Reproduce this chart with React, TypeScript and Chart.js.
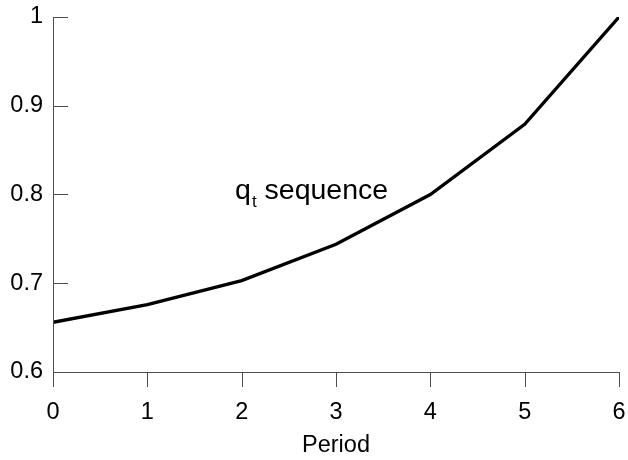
import React, { useEffect, useRef } from "react";
import { Chart, registerables } from "chart.js";

Chart.register(...registerables);

const periods: number[] = [0, 1, 2, 3, 4, 5, 6];
const qValues: number[] = [0.656, 0.676, 0.703, 0.744, 0.8, 0.879, 1.0];
const yTickValues: number[] = [0.6, 0.7, 0.8, 0.9, 1.0];
const xAxisTitle = "Period";
const seriesName = "q";
const seriesSub = "t";
const seriesRest = " sequence";

const FONT = "'Liberation Sans', Arial, Helvetica, sans-serif";
const AXIS_COLOR = "#4d4d4d";

const axesPlugin = {
  id: "customAxes",
  afterDraw(chart: any) {
    const ctx = chart.ctx;
    const xs = chart.scales.x;
    const ys = chart.scales.y;
    const left = chart.chartArea.left;
    const right = chart.chartArea.right;
    const top = chart.chartArea.top;
    const bottom = chart.chartArea.bottom;
    const tl = 15;
    ctx.save();
    ctx.strokeStyle = AXIS_COLOR;
    ctx.lineWidth = 1;
    ctx.beginPath();
    ctx.moveTo(Math.round(left) + 0.5, top);
    ctx.lineTo(Math.round(left) + 0.5, bottom + tl);
    ctx.moveTo(left, Math.round(bottom) + 0.5);
    ctx.lineTo(right, Math.round(bottom) + 0.5);
    yTickValues.forEach((v) => {
      const py = Math.round(ys.getPixelForValue(v)) + 0.5;
      ctx.moveTo(left, py);
      ctx.lineTo(left + tl, py);
    });
    periods.forEach((v) => {
      const px = Math.round(xs.getPixelForValue(v)) + 0.5;
      ctx.moveTo(px, bottom);
      ctx.lineTo(px, bottom + tl);
    });
    ctx.stroke();

    ctx.fillStyle = "#000";
    ctx.font = `23.5px ${FONT}`;
    ctx.textAlign = "center";
    ctx.textBaseline = "alphabetic";
    ctx.fillText(xAxisTitle, (left + right) / 2, 452);

    const ax = xs.getPixelForValue(1.93);
    const ay = ys.getPixelForValue(0.795);
    ctx.textAlign = "left";
    ctx.font = `28.5px ${FONT}`;
    ctx.fillText(seriesName, ax, ay);
    const qw = ctx.measureText(seriesName).width;
    ctx.font = `17px ${FONT}`;
    ctx.fillText(seriesSub, ax + qw + 1, ay + 8);
    const tw = ctx.measureText(seriesSub).width;
    ctx.font = `28.5px ${FONT}`;
    ctx.fillText(seriesRest, ax + qw + 1 + tw, ay);
    ctx.restore();
  },
};

export default function App() {
  const canvasRef = useRef<HTMLCanvasElement | null>(null);

  useEffect(() => {
    if (!canvasRef.current) return;
    const chart = new Chart(canvasRef.current, {
      type: "line",
      data: {
        datasets: [
          {
            data: periods.map((p, i) => ({ x: p, y: qValues[i] })),
            borderColor: "#000",
            borderWidth: 3.3,
            pointRadius: 0,
            tension: 0,
            fill: false,
          },
        ],
      },
      options: {
        animation: false,
        responsive: false,
        devicePixelRatio: 1,
        layout: { padding: { top: 17, right: 9, left: 0, bottom: 0 } },
        plugins: { legend: { display: false }, tooltip: { enabled: false } },
        scales: {
          x: {
            type: "linear",
            min: 0,
            max: 6,
            grid: { display: false, drawTicks: false },
            border: { display: false },
            ticks: {
              stepSize: 1,
              padding: 26,
              color: "#000",
              font: { family: FONT, size: 23.5 },
              maxRotation: 0,
              callback: (v: any) => String(v),
            },
            afterFit: (s: any) => {
              s.height = 88;
              s.paddingLeft = 0;
              s.paddingRight = 0;
              s.paddingTop = 0;
              s.paddingBottom = 0;
            },
          },
          y: {
            type: "linear",
            min: 0.6,
            max: 1,
            grid: { display: false, drawTicks: false },
            border: { display: false },
            afterBuildTicks: (s: any) => {
              s.ticks = yTickValues.map((v) => ({ value: v }));
            },
            ticks: {
              padding: 10,
              color: "#000",
              font: { family: FONT, size: 23.5 },
              callback: (v: any) => (Math.abs(v - 1) < 1e-9 ? "1" : Number(v).toFixed(1)),
            },
            afterFit: (s: any) => {
              s.width = 53;
              s.paddingLeft = 0;
              s.paddingRight = 0;
              s.paddingTop = 0;
              s.paddingBottom = 0;
            },
          },
        },
      },
      plugins: [axesPlugin],
    });
    return () => chart.destroy();
  }, []);

  return (
    <div style={{ position: "fixed", left: 0, top: 0, width: 628, height: 460, background: "#fff" }}>
      <canvas ref={canvasRef} width={628} height={460} style={{ display: "block" }} />
    </div>
  );
}
